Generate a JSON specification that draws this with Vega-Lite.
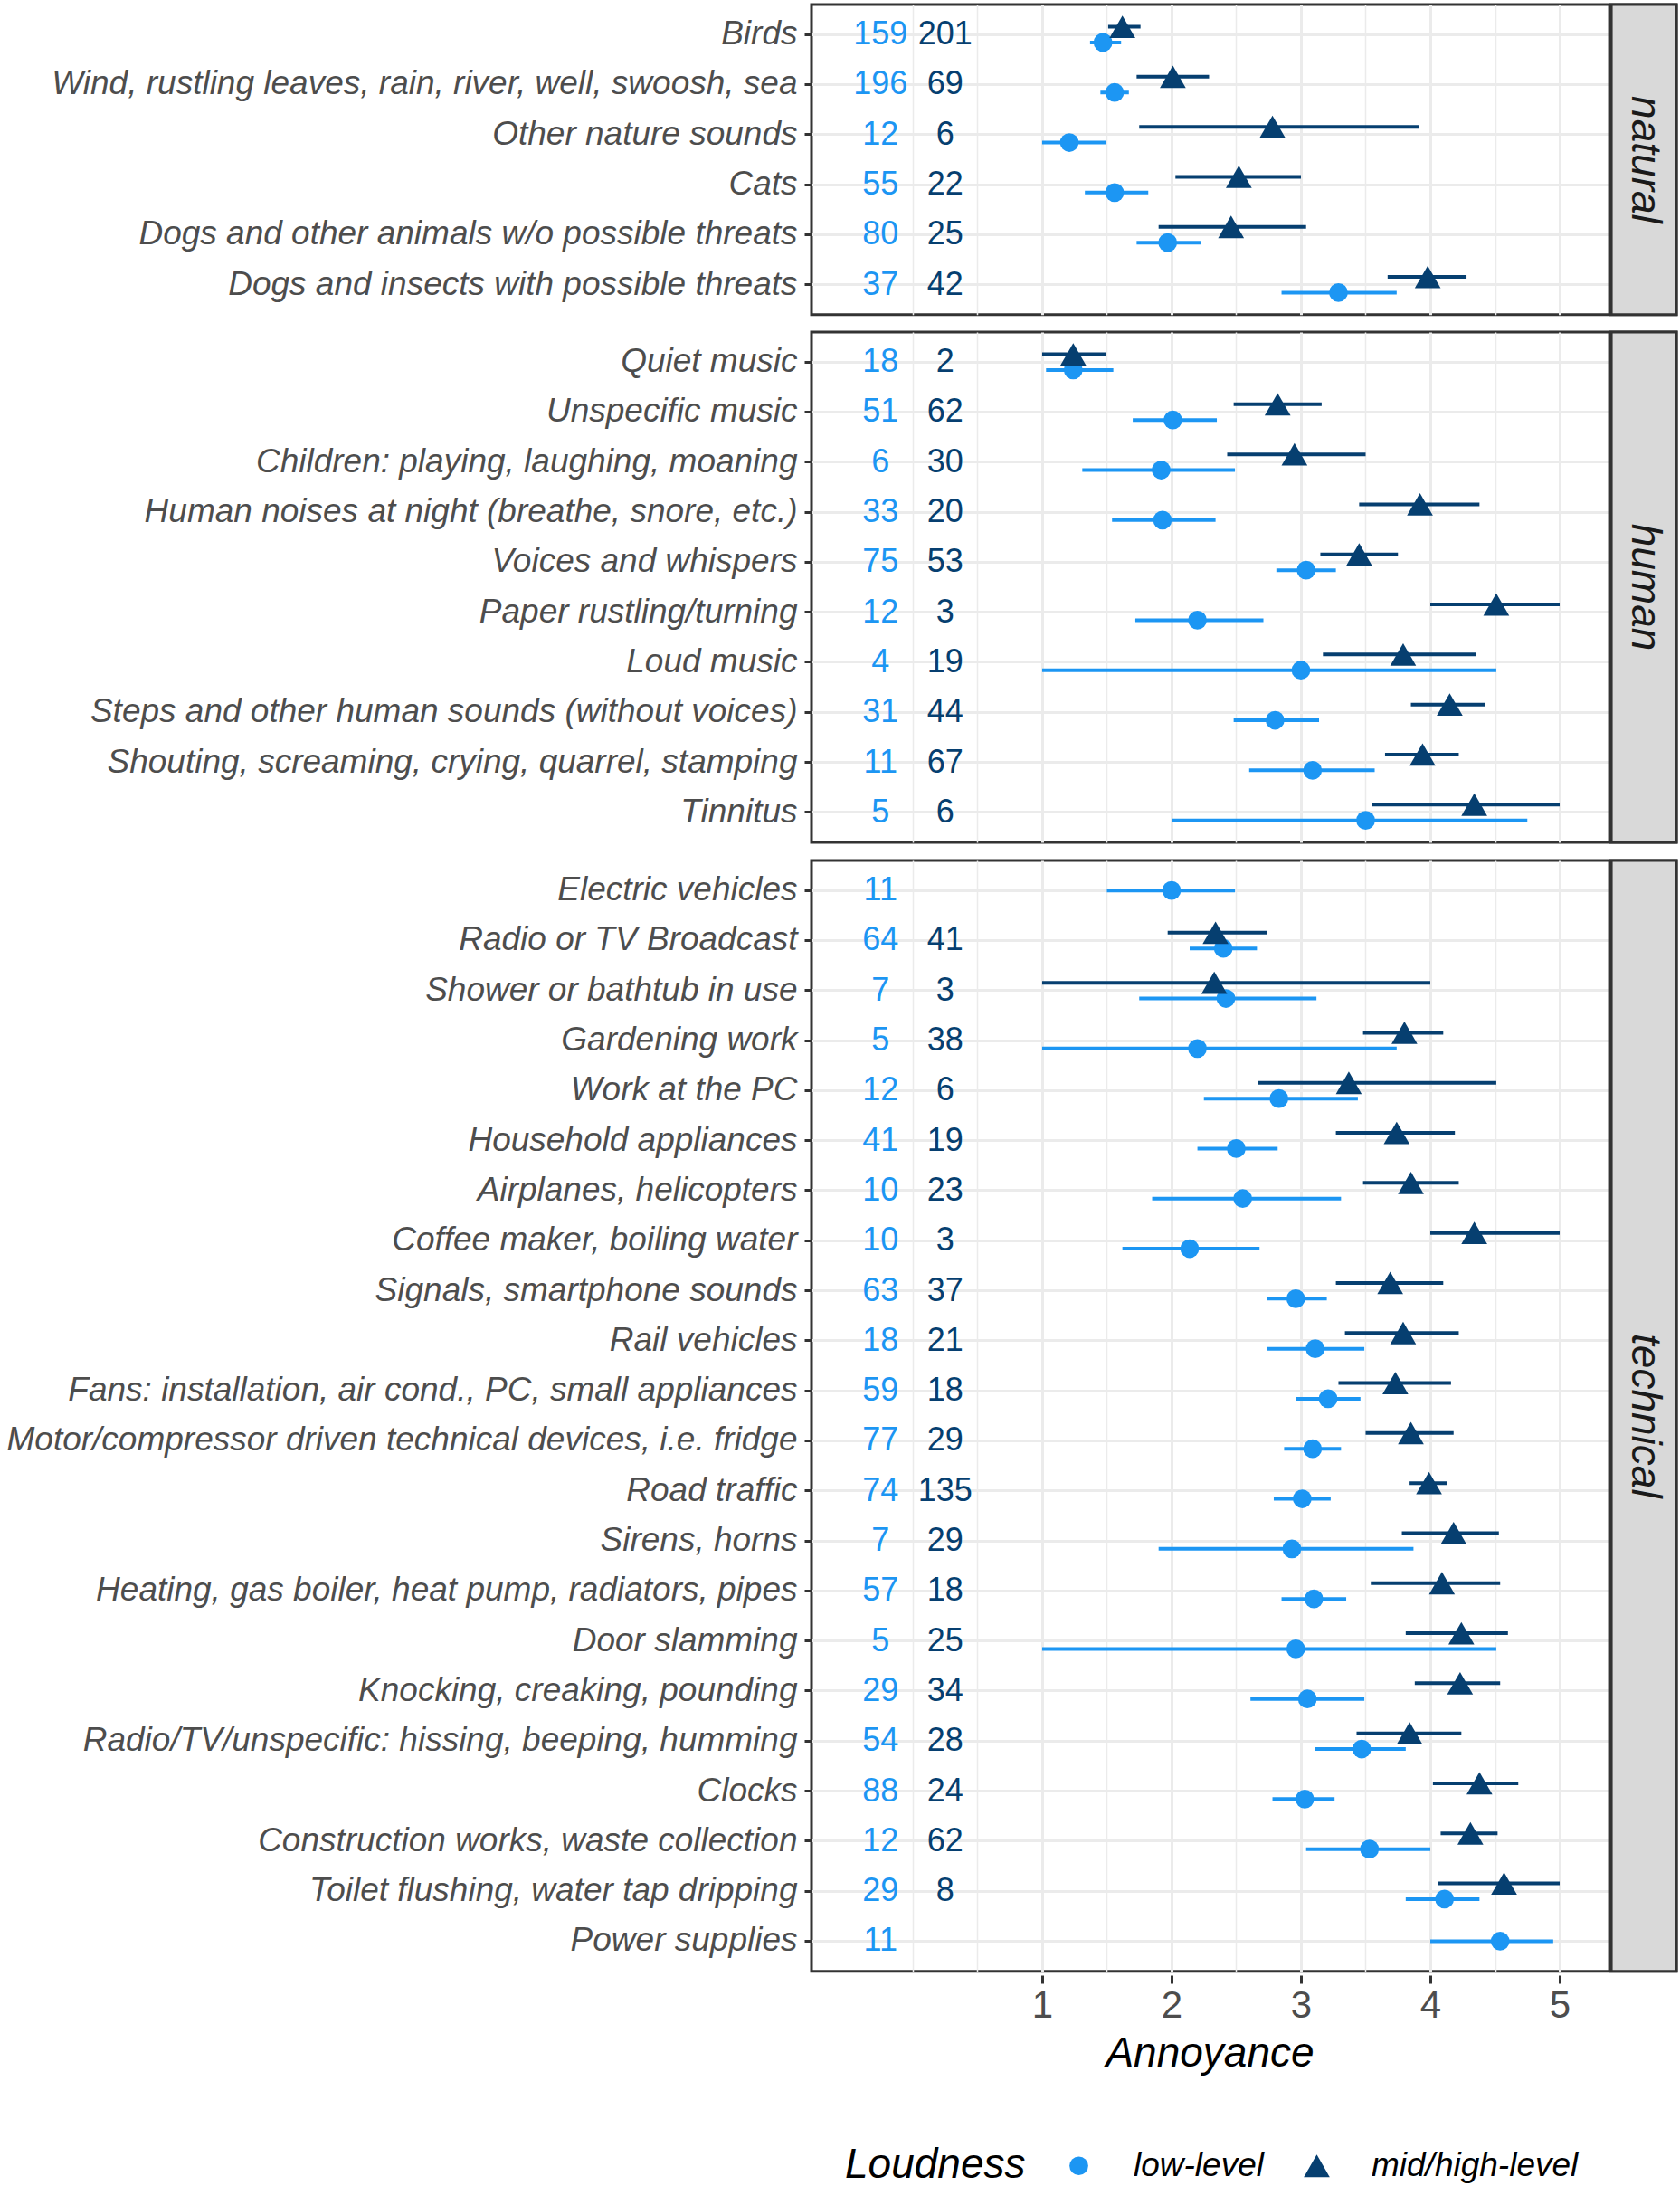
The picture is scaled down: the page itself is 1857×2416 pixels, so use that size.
{
  "$schema": "https://vega.github.io/schema/vega-lite/v6.json",
  "background": "white",
  "padding": {"left": 5, "top": 1, "right": 5, "bottom": 2},
  "data": {"values": [
    {"cat":"natural","item":"Birds","loud":"low-level","mean":1.47,"lo":1.37,"hi":1.61,"n":159},
    {"cat":"natural","item":"Birds","loud":"mid/high-level","mean":1.62,"lo":1.51,"hi":1.76,"n":201},
    {"cat":"natural","item":"Wind, rustling leaves, rain, river, well, swoosh, sea","loud":"low-level","mean":1.56,"lo":1.45,"hi":1.67,"n":196},
    {"cat":"natural","item":"Wind, rustling leaves, rain, river, well, swoosh, sea","loud":"mid/high-level","mean":2.01,"lo":1.73,"hi":2.29,"n":69},
    {"cat":"natural","item":"Other nature sounds","loud":"low-level","mean":1.21,"lo":1.0,"hi":1.49,"n":12},
    {"cat":"natural","item":"Other nature sounds","loud":"mid/high-level","mean":2.78,"lo":1.75,"hi":3.91,"n":6},
    {"cat":"natural","item":"Cats","loud":"low-level","mean":1.56,"lo":1.33,"hi":1.82,"n":55},
    {"cat":"natural","item":"Cats","loud":"mid/high-level","mean":2.52,"lo":2.03,"hi":3.0,"n":22},
    {"cat":"natural","item":"Dogs and other animals w/o possible threats","loud":"low-level","mean":1.97,"lo":1.73,"hi":2.23,"n":80},
    {"cat":"natural","item":"Dogs and other animals w/o possible threats","loud":"mid/high-level","mean":2.46,"lo":1.9,"hi":3.04,"n":25},
    {"cat":"natural","item":"Dogs and insects with possible threats","loud":"low-level","mean":3.29,"lo":2.85,"hi":3.74,"n":37},
    {"cat":"natural","item":"Dogs and insects with possible threats","loud":"mid/high-level","mean":3.98,"lo":3.67,"hi":4.28,"n":42},
    {"cat":"human","item":"Quiet music","loud":"low-level","mean":1.24,"lo":1.03,"hi":1.55,"n":18},
    {"cat":"human","item":"Quiet music","loud":"mid/high-level","mean":1.24,"lo":1.0,"hi":1.49,"n":2},
    {"cat":"human","item":"Unspecific music","loud":"low-level","mean":2.01,"lo":1.7,"hi":2.35,"n":51},
    {"cat":"human","item":"Unspecific music","loud":"mid/high-level","mean":2.82,"lo":2.48,"hi":3.16,"n":62},
    {"cat":"human","item":"Children: playing, laughing, moaning","loud":"low-level","mean":1.92,"lo":1.31,"hi":2.49,"n":6},
    {"cat":"human","item":"Children: playing, laughing, moaning","loud":"mid/high-level","mean":2.95,"lo":2.43,"hi":3.5,"n":30},
    {"cat":"human","item":"Human noises at night (breathe, snore, etc.)","loud":"low-level","mean":1.93,"lo":1.54,"hi":2.34,"n":33},
    {"cat":"human","item":"Human noises at night (breathe, snore, etc.)","loud":"mid/high-level","mean":3.92,"lo":3.45,"hi":4.38,"n":20},
    {"cat":"human","item":"Voices and whispers","loud":"low-level","mean":3.04,"lo":2.81,"hi":3.27,"n":75},
    {"cat":"human","item":"Voices and whispers","loud":"mid/high-level","mean":3.45,"lo":3.15,"hi":3.75,"n":53},
    {"cat":"human","item":"Paper rustling/turning","loud":"low-level","mean":2.2,"lo":1.72,"hi":2.71,"n":12},
    {"cat":"human","item":"Paper rustling/turning","loud":"mid/high-level","mean":4.51,"lo":4.0,"hi":5.0,"n":3},
    {"cat":"human","item":"Loud music","loud":"low-level","mean":3.0,"lo":1.0,"hi":4.51,"n":4},
    {"cat":"human","item":"Loud music","loud":"mid/high-level","mean":3.79,"lo":3.17,"hi":4.35,"n":19},
    {"cat":"human","item":"Steps and other human sounds (without voices)","loud":"low-level","mean":2.8,"lo":2.48,"hi":3.14,"n":31},
    {"cat":"human","item":"Steps and other human sounds (without voices)","loud":"mid/high-level","mean":4.15,"lo":3.85,"hi":4.42,"n":44},
    {"cat":"human","item":"Shouting, screaming, crying, quarrel, stamping","loud":"low-level","mean":3.09,"lo":2.6,"hi":3.57,"n":11},
    {"cat":"human","item":"Shouting, screaming, crying, quarrel, stamping","loud":"mid/high-level","mean":3.94,"lo":3.65,"hi":4.22,"n":67},
    {"cat":"human","item":"Tinnitus","loud":"low-level","mean":3.5,"lo":2.0,"hi":4.75,"n":5},
    {"cat":"human","item":"Tinnitus","loud":"mid/high-level","mean":4.34,"lo":3.55,"hi":5.0,"n":6},
    {"cat":"technical","item":"Electric vehicles","loud":"low-level","mean":2.0,"lo":1.5,"hi":2.49,"n":11},
    {"cat":"technical","item":"Radio or TV Broadcast","loud":"low-level","mean":2.4,"lo":2.14,"hi":2.66,"n":64},
    {"cat":"technical","item":"Radio or TV Broadcast","loud":"mid/high-level","mean":2.34,"lo":1.97,"hi":2.74,"n":41},
    {"cat":"technical","item":"Shower or bathtub in use","loud":"low-level","mean":2.42,"lo":1.75,"hi":3.12,"n":7},
    {"cat":"technical","item":"Shower or bathtub in use","loud":"mid/high-level","mean":2.33,"lo":1.0,"hi":4.0,"n":3},
    {"cat":"technical","item":"Gardening work","loud":"low-level","mean":2.2,"lo":1.0,"hi":3.74,"n":5},
    {"cat":"technical","item":"Gardening work","loud":"mid/high-level","mean":3.8,"lo":3.48,"hi":4.1,"n":38},
    {"cat":"technical","item":"Work at the PC","loud":"low-level","mean":2.83,"lo":2.25,"hi":3.44,"n":12},
    {"cat":"technical","item":"Work at the PC","loud":"mid/high-level","mean":3.37,"lo":2.67,"hi":4.51,"n":6},
    {"cat":"technical","item":"Household appliances","loud":"low-level","mean":2.5,"lo":2.2,"hi":2.82,"n":41},
    {"cat":"technical","item":"Household appliances","loud":"mid/high-level","mean":3.74,"lo":3.27,"hi":4.19,"n":19},
    {"cat":"technical","item":"Airplanes, helicopters","loud":"low-level","mean":2.55,"lo":1.85,"hi":3.31,"n":10},
    {"cat":"technical","item":"Airplanes, helicopters","loud":"mid/high-level","mean":3.85,"lo":3.48,"hi":4.22,"n":23},
    {"cat":"technical","item":"Coffee maker, boiling water","loud":"low-level","mean":2.14,"lo":1.62,"hi":2.68,"n":10},
    {"cat":"technical","item":"Coffee maker, boiling water","loud":"mid/high-level","mean":4.34,"lo":4.0,"hi":5.0,"n":3},
    {"cat":"technical","item":"Signals, smartphone sounds","loud":"low-level","mean":2.96,"lo":2.74,"hi":3.2,"n":63},
    {"cat":"technical","item":"Signals, smartphone sounds","loud":"mid/high-level","mean":3.69,"lo":3.27,"hi":4.1,"n":37},
    {"cat":"technical","item":"Rail vehicles","loud":"low-level","mean":3.11,"lo":2.74,"hi":3.49,"n":18},
    {"cat":"technical","item":"Rail vehicles","loud":"mid/high-level","mean":3.79,"lo":3.34,"hi":4.22,"n":21},
    {"cat":"technical","item":"Fans: installation, air cond., PC, small appliances","loud":"low-level","mean":3.21,"lo":2.96,"hi":3.46,"n":59},
    {"cat":"technical","item":"Fans: installation, air cond., PC, small appliances","loud":"mid/high-level","mean":3.73,"lo":3.29,"hi":4.16,"n":18},
    {"cat":"technical","item":"Motor/compressor driven technical devices, i.e. fridge","loud":"low-level","mean":3.09,"lo":2.87,"hi":3.31,"n":77},
    {"cat":"technical","item":"Motor/compressor driven technical devices, i.e. fridge","loud":"mid/high-level","mean":3.85,"lo":3.5,"hi":4.18,"n":29},
    {"cat":"technical","item":"Road traffic","loud":"low-level","mean":3.01,"lo":2.79,"hi":3.23,"n":74},
    {"cat":"technical","item":"Road traffic","loud":"mid/high-level","mean":3.99,"lo":3.84,"hi":4.13,"n":135},
    {"cat":"technical","item":"Sirens, horns","loud":"low-level","mean":2.93,"lo":1.9,"hi":3.87,"n":7},
    {"cat":"technical","item":"Sirens, horns","loud":"mid/high-level","mean":4.18,"lo":3.78,"hi":4.53,"n":29},
    {"cat":"technical","item":"Heating, gas boiler, heat pump, radiators, pipes","loud":"low-level","mean":3.1,"lo":2.85,"hi":3.35,"n":57},
    {"cat":"technical","item":"Heating, gas boiler, heat pump, radiators, pipes","loud":"mid/high-level","mean":4.09,"lo":3.54,"hi":4.54,"n":18},
    {"cat":"technical","item":"Door slamming","loud":"low-level","mean":2.96,"lo":1.0,"hi":4.51,"n":5},
    {"cat":"technical","item":"Door slamming","loud":"mid/high-level","mean":4.24,"lo":3.81,"hi":4.6,"n":25},
    {"cat":"technical","item":"Knocking, creaking, pounding","loud":"low-level","mean":3.05,"lo":2.61,"hi":3.49,"n":29},
    {"cat":"technical","item":"Knocking, creaking, pounding","loud":"mid/high-level","mean":4.23,"lo":3.88,"hi":4.54,"n":34},
    {"cat":"technical","item":"Radio/TV/unspecific: hissing, beeping, humming","loud":"low-level","mean":3.47,"lo":3.11,"hi":3.81,"n":54},
    {"cat":"technical","item":"Radio/TV/unspecific: hissing, beeping, humming","loud":"mid/high-level","mean":3.84,"lo":3.43,"hi":4.24,"n":28},
    {"cat":"technical","item":"Clocks","loud":"low-level","mean":3.03,"lo":2.78,"hi":3.26,"n":88},
    {"cat":"technical","item":"Clocks","loud":"mid/high-level","mean":4.38,"lo":4.02,"hi":4.68,"n":24},
    {"cat":"technical","item":"Construction works, waste collection","loud":"low-level","mean":3.53,"lo":3.04,"hi":4.0,"n":12},
    {"cat":"technical","item":"Construction works, waste collection","loud":"mid/high-level","mean":4.31,"lo":4.08,"hi":4.52,"n":62},
    {"cat":"technical","item":"Toilet flushing, water tap dripping","loud":"low-level","mean":4.11,"lo":3.81,"hi":4.38,"n":29},
    {"cat":"technical","item":"Toilet flushing, water tap dripping","loud":"mid/high-level","mean":4.57,"lo":4.06,"hi":5.0,"n":8},
    {"cat":"technical","item":"Power supplies","loud":"low-level","mean":4.54,"lo":4.0,"hi":4.95,"n":11}
  ]},
  "transform": [{"joinaggregate": [{"op": "count", "as": "k"}], "groupby": ["item"]}],
  "facet": {"row": {"field": "cat", "type": "nominal", "sort": ["natural", "human", "technical"], "title": null, "header": null}},
  "spacing": 11,
  "resolve": {"scale": {"y": "independent"}},
  "spec": {
    "width": 956,
    "height": {"step": 55.3, "for": "position"},
    "layer": [
      {
        "transform": [{"aggregate": [{"op": "count", "as": "c"}], "groupby": ["cat"]}],
        "mark": {"type": "rect", "fill": "#D9D9D9", "stroke": "#333333", "strokeWidth": 3},
        "encoding": {
          "x": {"datum": 5.392, "type": "quantitative", "scale": {"domain": [-0.783, 5.902], "nice": false, "zero": false}},
          "x2": {"datum": 5.902},
          "y": {"value": 0},
          "y2": {"value": {"expr": "range('child_y')[1]"}}
        }
      },
      {
        "transform": [{"aggregate": [{"op": "count", "as": "c"}], "groupby": ["cat"]}],
        "mark": {"type": "text", "angle": 90, "fontSize": 46, "fontStyle": "italic", "color": "#1A1A1A", "font": "Liberation Sans", "align": "center", "baseline": "middle"},
        "encoding": {
          "x": {"datum": 5.66, "type": "quantitative", "scale": {"domain": [-0.783, 5.902], "nice": false, "zero": false}},
          "y": {"value": {"expr": "range('child_y')[1] / 2"}},
          "text": {"field": "cat"}
        }
      },
      {
        "transform": [{"filter": "datum.k == 2"}],
        "mark": {"type": "rule", "strokeWidth": 4},
        "encoding": {
          "x": {"field": "lo", "type": "quantitative", "scale": {"domain": [-0.783, 5.902], "nice": false, "zero": false},
            "axis": {
              "values": [0, 0.5, 1, 1.5, 2, 2.5, 3, 3.5, 4, 4.5, 5],
              "title": "Annoyance", "titleFontSize": 46, "titleFontStyle": "italic", "titleFontWeight": "normal", "titleColor": "#000000", "titleFont": "Liberation Sans", "titleX": 440, "titlePadding": 10,
              "labelFontSize": 42, "labelColor": "#4D4D4D", "labelFont": "Liberation Sans", "labelPadding": 4, "labelFlush": false, "labelOverlap": false,
              "labelExpr": "datum.value >= 1 && datum.value % 1 == 0 ? format(datum.value, 'd') : ''",
              "domain": false, "tickSize": 9, "tickWidth": 3, "tickColor": "#333333",
              "tickOpacity": {"condition": {"test": "datum.value >= 1 && datum.value % 1 == 0", "value": 1}, "value": 0},
              "grid": true, "gridColor": "#EBEBEB",
              "gridWidth": {"condition": {"test": "datum.value >= 1 && datum.value % 1 == 0", "value": 3}, "value": 1.5}
            }},
          "x2": {"field": "hi"},
          "y": {"field": "item", "type": "nominal", "sort": ["Birds","Wind, rustling leaves, rain, river, well, swoosh, sea","Other nature sounds","Cats","Dogs and other animals w/o possible threats","Dogs and insects with possible threats","Quiet music","Unspecific music","Children: playing, laughing, moaning","Human noises at night (breathe, snore, etc.)","Voices and whispers","Paper rustling/turning","Loud music","Steps and other human sounds (without voices)","Shouting, screaming, crying, quarrel, stamping","Tinnitus","Electric vehicles","Radio or TV Broadcast","Shower or bathtub in use","Gardening work","Work at the PC","Household appliances","Airplanes, helicopters","Coffee maker, boiling water","Signals, smartphone sounds","Rail vehicles","Fans: installation, air cond., PC, small appliances","Motor/compressor driven technical devices, i.e. fridge","Road traffic","Sirens, horns","Heating, gas boiler, heat pump, radiators, pipes","Door slamming","Knocking, creaking, pounding","Radio/TV/unspecific: hissing, beeping, humming","Clocks","Construction works, waste collection","Toilet flushing, water tap dripping","Power supplies"],
            "scale": {"type": "band", "paddingInner": 0, "paddingOuter": 0.1},
            "axis": {"title": null, "labelFontSize": 37, "labelFontStyle": "italic", "labelColor": "#4D4D4D", "labelFont": "Liberation Sans", "labelPadding": 8, "labelLimit": 2000, "tickSize": 8, "tickWidth": 3, "tickColor": "#333333", "domain": false, "grid": true, "gridColor": "#EBEBEB", "gridWidth": 3, "bandPosition": 0.5}},
          "yOffset": {"field": "loud", "type": "nominal", "sort": ["mid/high-level", "low-level"], "scale": {"type": "point", "padding": 0, "range": [19, 36.4]}},
          "color": {"field": "loud", "type": "nominal", "scale": {"domain": ["low-level", "mid/high-level"], "range": ["#1C96F3", "#063F70"]}, "legend": {"title": "Loudness"}}
        }
      },
      {
        "transform": [{"filter": "datum.k == 1"}],
        "mark": {"type": "rule", "strokeWidth": 4},
        "encoding": {
          "x": {"field": "lo", "type": "quantitative", "scale": {"domain": [-0.783, 5.902], "nice": false, "zero": false}},
          "x2": {"field": "hi"},
          "y": {"field": "item", "type": "nominal", "sort": ["Birds","Wind, rustling leaves, rain, river, well, swoosh, sea","Other nature sounds","Cats","Dogs and other animals w/o possible threats","Dogs and insects with possible threats","Quiet music","Unspecific music","Children: playing, laughing, moaning","Human noises at night (breathe, snore, etc.)","Voices and whispers","Paper rustling/turning","Loud music","Steps and other human sounds (without voices)","Shouting, screaming, crying, quarrel, stamping","Tinnitus","Electric vehicles","Radio or TV Broadcast","Shower or bathtub in use","Gardening work","Work at the PC","Household appliances","Airplanes, helicopters","Coffee maker, boiling water","Signals, smartphone sounds","Rail vehicles","Fans: installation, air cond., PC, small appliances","Motor/compressor driven technical devices, i.e. fridge","Road traffic","Sirens, horns","Heating, gas boiler, heat pump, radiators, pipes","Door slamming","Knocking, creaking, pounding","Radio/TV/unspecific: hissing, beeping, humming","Clocks","Construction works, waste collection","Toilet flushing, water tap dripping","Power supplies"],
            "scale": {"type": "band", "paddingInner": 0, "paddingOuter": 0.1}},
          "color": {"field": "loud", "type": "nominal", "scale": {"domain": ["low-level", "mid/high-level"], "range": ["#1C96F3", "#063F70"]}, "legend": {"title": "Loudness"}}
        }
      },
      {
        "transform": [{"filter": "datum.k == 2"}],
        "mark": {"type": "point", "filled": true, "opacity": 1, "strokeWidth": 0},
        "encoding": {
          "x": {"field": "mean", "type": "quantitative", "scale": {"domain": [-0.783, 5.902], "nice": false, "zero": false}},
          "y": {"field": "item", "type": "nominal", "sort": ["Birds","Wind, rustling leaves, rain, river, well, swoosh, sea","Other nature sounds","Cats","Dogs and other animals w/o possible threats","Dogs and insects with possible threats","Quiet music","Unspecific music","Children: playing, laughing, moaning","Human noises at night (breathe, snore, etc.)","Voices and whispers","Paper rustling/turning","Loud music","Steps and other human sounds (without voices)","Shouting, screaming, crying, quarrel, stamping","Tinnitus","Electric vehicles","Radio or TV Broadcast","Shower or bathtub in use","Gardening work","Work at the PC","Household appliances","Airplanes, helicopters","Coffee maker, boiling water","Signals, smartphone sounds","Rail vehicles","Fans: installation, air cond., PC, small appliances","Motor/compressor driven technical devices, i.e. fridge","Road traffic","Sirens, horns","Heating, gas boiler, heat pump, radiators, pipes","Door slamming","Knocking, creaking, pounding","Radio/TV/unspecific: hissing, beeping, humming","Clocks","Construction works, waste collection","Toilet flushing, water tap dripping","Power supplies"],
            "scale": {"type": "band", "paddingInner": 0, "paddingOuter": 0.1}},
          "yOffset": {"field": "loud", "type": "nominal", "sort": ["mid/high-level", "low-level"], "scale": {"type": "point", "padding": 0, "range": [19, 36.4]}},
          "color": {"field": "loud", "type": "nominal", "scale": {"domain": ["low-level", "mid/high-level"], "range": ["#1C96F3", "#063F70"]}, "legend": {"title": "Loudness"}},
          "shape": {"field": "loud", "type": "nominal", "scale": {"domain": ["low-level", "mid/high-level"], "range": ["circle", "triangle-up"]}, "legend": {"title": "Loudness"}},
          "size": {"field": "loud", "type": "nominal", "scale": {"domain": ["low-level", "mid/high-level"], "range": [430, 820]}, "legend": {"title": "Loudness"}}
        }
      },
      {
        "transform": [{"filter": "datum.k == 1"}],
        "mark": {"type": "point", "filled": true, "opacity": 1, "strokeWidth": 0},
        "encoding": {
          "x": {"field": "mean", "type": "quantitative", "scale": {"domain": [-0.783, 5.902], "nice": false, "zero": false}},
          "y": {"field": "item", "type": "nominal", "sort": ["Birds","Wind, rustling leaves, rain, river, well, swoosh, sea","Other nature sounds","Cats","Dogs and other animals w/o possible threats","Dogs and insects with possible threats","Quiet music","Unspecific music","Children: playing, laughing, moaning","Human noises at night (breathe, snore, etc.)","Voices and whispers","Paper rustling/turning","Loud music","Steps and other human sounds (without voices)","Shouting, screaming, crying, quarrel, stamping","Tinnitus","Electric vehicles","Radio or TV Broadcast","Shower or bathtub in use","Gardening work","Work at the PC","Household appliances","Airplanes, helicopters","Coffee maker, boiling water","Signals, smartphone sounds","Rail vehicles","Fans: installation, air cond., PC, small appliances","Motor/compressor driven technical devices, i.e. fridge","Road traffic","Sirens, horns","Heating, gas boiler, heat pump, radiators, pipes","Door slamming","Knocking, creaking, pounding","Radio/TV/unspecific: hissing, beeping, humming","Clocks","Construction works, waste collection","Toilet flushing, water tap dripping","Power supplies"],
            "scale": {"type": "band", "paddingInner": 0, "paddingOuter": 0.1}},
          "color": {"field": "loud", "type": "nominal", "scale": {"domain": ["low-level", "mid/high-level"], "range": ["#1C96F3", "#063F70"]}, "legend": {"title": "Loudness"}},
          "shape": {"field": "loud", "type": "nominal", "scale": {"domain": ["low-level", "mid/high-level"], "range": ["circle", "triangle-up"]}, "legend": {"title": "Loudness"}},
          "size": {"field": "loud", "type": "nominal", "scale": {"domain": ["low-level", "mid/high-level"], "range": [430, 820]}, "legend": {"title": "Loudness"}}
        }
      },
      {
        "transform": [{"filter": "datum.loud == 'low-level'"}],
        "mark": {"type": "text", "fontSize": 36, "color": "#1C96F3", "font": "Liberation Sans", "align": "center", "baseline": "middle"},
        "encoding": {
          "x": {"datum": -0.25, "type": "quantitative", "scale": {"domain": [-0.783, 5.902], "nice": false, "zero": false}},
          "y": {"field": "item", "type": "nominal", "sort": ["Birds","Wind, rustling leaves, rain, river, well, swoosh, sea","Other nature sounds","Cats","Dogs and other animals w/o possible threats","Dogs and insects with possible threats","Quiet music","Unspecific music","Children: playing, laughing, moaning","Human noises at night (breathe, snore, etc.)","Voices and whispers","Paper rustling/turning","Loud music","Steps and other human sounds (without voices)","Shouting, screaming, crying, quarrel, stamping","Tinnitus","Electric vehicles","Radio or TV Broadcast","Shower or bathtub in use","Gardening work","Work at the PC","Household appliances","Airplanes, helicopters","Coffee maker, boiling water","Signals, smartphone sounds","Rail vehicles","Fans: installation, air cond., PC, small appliances","Motor/compressor driven technical devices, i.e. fridge","Road traffic","Sirens, horns","Heating, gas boiler, heat pump, radiators, pipes","Door slamming","Knocking, creaking, pounding","Radio/TV/unspecific: hissing, beeping, humming","Clocks","Construction works, waste collection","Toilet flushing, water tap dripping","Power supplies"],
            "scale": {"type": "band", "paddingInner": 0, "paddingOuter": 0.1}},
          "text": {"field": "n", "type": "quantitative"}
        }
      },
      {
        "transform": [{"filter": "datum.loud == 'mid/high-level'"}],
        "mark": {"type": "text", "fontSize": 36, "color": "#063F70", "font": "Liberation Sans", "align": "center", "baseline": "middle"},
        "encoding": {
          "x": {"datum": 0.25, "type": "quantitative", "scale": {"domain": [-0.783, 5.902], "nice": false, "zero": false}},
          "y": {"field": "item", "type": "nominal", "sort": ["Birds","Wind, rustling leaves, rain, river, well, swoosh, sea","Other nature sounds","Cats","Dogs and other animals w/o possible threats","Dogs and insects with possible threats","Quiet music","Unspecific music","Children: playing, laughing, moaning","Human noises at night (breathe, snore, etc.)","Voices and whispers","Paper rustling/turning","Loud music","Steps and other human sounds (without voices)","Shouting, screaming, crying, quarrel, stamping","Tinnitus","Electric vehicles","Radio or TV Broadcast","Shower or bathtub in use","Gardening work","Work at the PC","Household appliances","Airplanes, helicopters","Coffee maker, boiling water","Signals, smartphone sounds","Rail vehicles","Fans: installation, air cond., PC, small appliances","Motor/compressor driven technical devices, i.e. fridge","Road traffic","Sirens, horns","Heating, gas boiler, heat pump, radiators, pipes","Door slamming","Knocking, creaking, pounding","Radio/TV/unspecific: hissing, beeping, humming","Clocks","Construction works, waste collection","Toilet flushing, water tap dripping","Power supplies"],
            "scale": {"type": "band", "paddingInner": 0, "paddingOuter": 0.1}},
          "text": {"field": "n", "type": "quantitative"}
        }
      },
      {
        "transform": [{"aggregate": [{"op": "count", "as": "c"}], "groupby": ["cat"]}],
        "mark": {"type": "rule", "color": "#333333", "strokeWidth": 5},
        "encoding": {
          "x": {"datum": 5.392, "type": "quantitative", "scale": {"domain": [-0.783, 5.902], "nice": false, "zero": false}},
          "y": {"value": 0},
          "y2": {"value": {"expr": "range('child_y')[1]"}}
        }
      }
    ]
  },
  "config": {
    "font": "Liberation Sans",
    "view": {"stroke": "#333333", "strokeWidth": 3, "fill": "white"},
    "legend": {"orient": "none", "legendX": 37, "legendY": 2370, "direction": "horizontal", "titleOrient": "left", "titleFontSize": 46, "titleFontStyle": "italic", "titleFontWeight": "normal", "titleColor": "#000000", "titleFont": "Liberation Sans", "titleLimit": 1000, "labelFontSize": 37, "labelFontStyle": "italic", "labelColor": "#000000", "labelFont": "Liberation Sans", "labelLimit": 1000, "titlePadding": 40, "labelOffset": 42, "columnPadding": 40, "symbolStrokeWidth": 0}
  }
}
